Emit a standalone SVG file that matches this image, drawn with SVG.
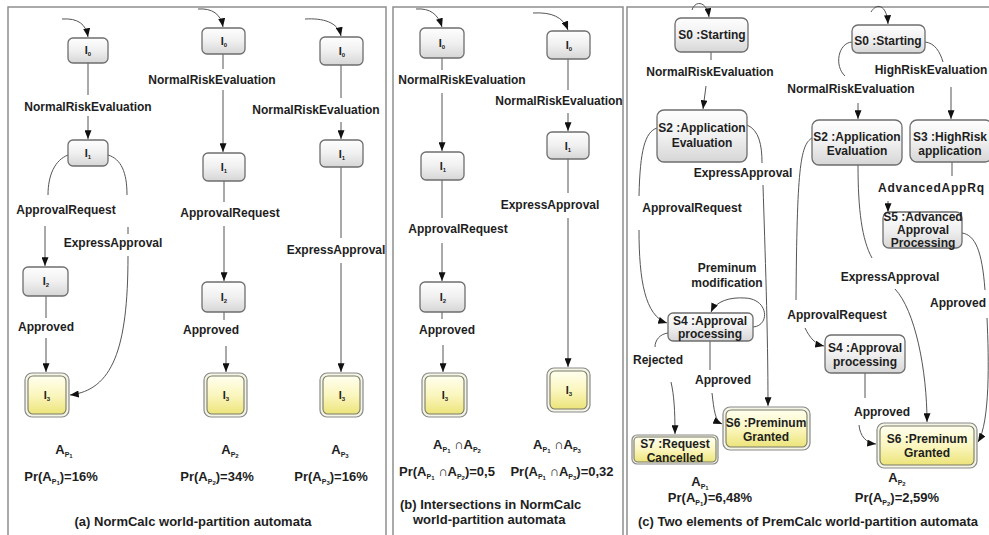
<svg xmlns="http://www.w3.org/2000/svg" width="989" height="535" viewBox="0 0 989 535">
  <defs>
    <linearGradient id="gNode" x1="0" y1="0" x2="0" y2="1">
      <stop offset="0" stop-color="#fefefe"/>
      <stop offset="0.5" stop-color="#f0f0f0"/>
      <stop offset="1" stop-color="#d6d6d6"/>
    </linearGradient>
    <linearGradient id="gFinal" x1="0" y1="0" x2="0" y2="1">
      <stop offset="0" stop-color="#ffffee"/>
      <stop offset="0.5" stop-color="#fbf6bf"/>
      <stop offset="1" stop-color="#ece47a"/>
    </linearGradient>
    <marker id="arr" viewBox="0 0 10 8" refX="10" refY="4" markerWidth="9" markerHeight="7" markerUnits="userSpaceOnUse" orient="auto">
      <path d="M0,0 L10,4 L0,8 z" fill="#111"/>
    </marker>
    <style>
      .frame { fill: none; stroke: #8e8e8e; stroke-width: 1.5; }
      .node rect { fill: url(#gNode); stroke: #6e6e6e; stroke-width: 1.3; }
      .final .fo { fill: #f5f5e6; stroke: #8a8a8a; stroke-width: 1.2; }
      .final .fi { fill: url(#gFinal); stroke: #7a7a6a; stroke-width: 1.1; }
      .t { font-family: "Liberation Sans", Arial, sans-serif; font-weight: bold; font-size: 12px; fill: #1e1e1e; }
      .big { font-size: 13px; }
      .m { text-anchor: middle; }
      .nl { font-family: "Liberation Sans", Arial, sans-serif; font-weight: bold; font-size: 11px; fill: #1e1e1e; text-anchor: middle; }
      .sb { font-size: 6px; }
      .sp { font-size: 7px; }
      .edge { fill: none; stroke: #555; stroke-width: 1; }
      .arw { marker-end: url(#arr); }
    </style>
  </defs>

  <rect width="989" height="535" fill="#ffffff"/>

  <!-- panel frames -->
  <g id="frames">
    <path class="frame" d="M8,540 V7 H386 V540"/>
    <path class="frame" d="M393,540 V7 H623 V540"/>
    <path class="frame" d="M627,540 V7 H992"/>
  </g>

  <!-- connectors -->
  <g id="connectors">
    <!-- (a) column 1 -->
    <path class="edge arw" d="M62,19 C78,18 86,24 88,37"/>
    <path class="edge" d="M88,63 V95"/>
    <path class="edge arw" d="M88,116 V139"/>
    <path class="edge" d="M68,155 C55,160 48,175 48,195"/>
    <path class="edge arw" d="M45,226 V266"/>
    <path class="edge" d="M108,155 C121,159 127,172 127,195"/>
    <path class="edge" d="M128,227 V234"/>
    <path class="edge arw" d="M128,256 C128,350 112,390 70,395"/>
    <path class="edge" d="M46,296 V318"/>
    <path class="edge arw" d="M46,338 V372"/>
    <!-- (a) column 2 -->
    <path class="edge arw" d="M198,9 C212,8 221,14 223,27"/>
    <path class="edge" d="M223,54 V69"/>
    <path class="edge arw" d="M223,90 V152"/>
    <path class="edge" d="M224,181 V202"/>
    <path class="edge arw" d="M224,226 V281"/>
    <path class="edge" d="M224,312 V320"/>
    <path class="edge arw" d="M226,346 V372"/>
    <!-- (a) column 3 -->
    <path class="edge arw" d="M305,19 C323,18 338,22 341,36"/>
    <path class="edge" d="M341,65 V98"/>
    <path class="edge arw" d="M341,122 V139"/>
    <path class="edge" d="M341,167 V238"/>
    <path class="edge arw" d="M341,263 V372"/>
    <!-- (b) column 1 -->
    <path class="edge arw" d="M416,9 C430,8 438,14 442,27"/>
    <path class="edge" d="M442,58 V70"/>
    <path class="edge arw" d="M442,93 V151"/>
    <path class="edge" d="M442,180 V218"/>
    <path class="edge arw" d="M442,243 V281"/>
    <path class="edge" d="M442,312 V319"/>
    <path class="edge arw" d="M443,345 V372"/>
    <!-- (b) column 2 -->
    <path class="edge arw" d="M533,13 C552,12 563,17 568,30"/>
    <path class="edge" d="M568,59 V90"/>
    <path class="edge arw" d="M568,113 V131"/>
    <path class="edge" d="M568,159 V193"/>
    <path class="edge arw" d="M568,218 V367"/>
    <!-- (c) left automaton -->
    <path class="edge arw" d="M692,10 C695,0 707,1 709,17"/>
    <path class="edge" d="M711,52 V60"/>
    <path class="edge arw" d="M706,86 L703,109"/>
    <path class="edge" d="M747,125 C759,130 762,145 762,163"/>
    <path class="edge arw" d="M763,185 C765,250 768,330 768,406"/>
    <path class="edge" d="M657,128 C645,132 640,150 639,196"/>
    <path class="edge arw" d="M639,230 C639,280 645,316 667,323"/>
    <path class="edge arw" d="M753,327 C770,326 769,299 745,298 C730,297 716,301 711,312"/>
    <path class="edge" d="M668,333 C660,334 655,340 655,347"/>
    <path class="edge arw" d="M671,382 C674,395 675,410 675,434"/>
    <path class="edge" d="M710,341 V370"/>
    <path class="edge arw" d="M712,393 C714,410 715,421 722,424"/>
    <!-- (c) right automaton -->
    <path class="edge arw" d="M871,12 C877,2 887,5 888,24"/>
    <path class="edge" d="M852,42 C838,43 834,66 845,76"/>
    <path class="edge arw" d="M858,103 V119"/>
    <path class="edge" d="M925,42 C935,43 940,52 943,62"/>
    <path class="edge arw" d="M951,87 V119"/>
    <path class="edge" d="M952,162 V176"/>
    <path class="edge arw" d="M888,201 V212"/>
    <path class="edge" d="M962,233 C975,235 982,250 985,290"/>
    <path class="edge arw" d="M987,318 C989,360 990,422 978,442"/>
    <path class="edge" d="M858,165 C858,210 862,240 872,258"/>
    <path class="edge arw" d="M895,289 C915,310 927,370 927,422"/>
    <path class="edge" d="M812,138 C800,145 797,170 796,300"/>
    <path class="edge arw" d="M805,328 C810,338 815,344 824,346"/>
    <path class="edge" d="M865,373 V398"/>
    <path class="edge arw" d="M859,425 C860,436 866,443 876,444"/>
  </g>

  <!-- connector labels -->
  <g id="edge-labels" class="t m">
    <text x="88" y="111">NormalRiskEvaluation</text>
    <text x="66" y="214">ApprovalRequest</text>
    <text x="113" y="247">ExpressApproval</text>
    <text x="46" y="331">Approved</text>
    <text x="212" y="84">NormalRiskEvaluation</text>
    <text x="230" y="217">ApprovalRequest</text>
    <text x="211" y="334">Approved</text>
    <text x="316" y="114">NormalRiskEvaluation</text>
    <text x="336" y="254">ExpressApproval</text>

    <text x="462" y="84">NormalRiskEvaluation</text>
    <text x="458" y="233">ApprovalRequest</text>
    <text x="447" y="334">Approved</text>
    <text x="559" y="105">NormalRiskEvaluation</text>
    <text x="550" y="209">ExpressApproval</text>

    <text x="710" y="76">NormalRiskEvaluation</text>
    <text x="743" y="177">ExpressApproval</text>
    <text x="692" y="212">ApprovalRequest</text>
    <text x="727" y="272">Preminum</text>
    <text x="727" y="287">modification</text>
    <text x="658" y="364">Rejected</text>
    <text x="723" y="384">Approved</text>

    <text x="851" y="93">NormalRiskEvaluation</text>
    <text x="931" y="74">HighRiskEvaluation</text>
    <text x="931" y="192" textLength="106">AdvancedAppRq</text>
    <text x="890" y="281">ExpressApproval</text>
    <text x="958" y="307">Approved</text>
    <text x="837" y="319">ApprovalRequest</text>
    <text x="882" y="416">Approved</text>
  </g>

  <!-- (a) nodes -->
  <g id="a1-I0" class="node"><rect x="68" y="38" width="40" height="25" rx="5"/><text class="nl" x="88" y="54">I<tspan class="sb" dy="2">0</tspan></text></g>
  <g id="a1-I1" class="node"><rect x="68" y="140" width="40" height="26" rx="5"/><text class="nl" x="88" y="157">I<tspan class="sb" dy="2">1</tspan></text></g>
  <g id="a1-I2" class="node"><rect x="23" y="267" width="45" height="29" rx="5"/><text class="nl" x="46" y="285">I<tspan class="sb" dy="2">2</tspan></text></g>
  <g id="a1-I3" class="final"><rect class="fo" x="25" y="373" width="44" height="44" rx="7"/><rect class="fi" x="28" y="376" width="38" height="38" rx="5"/><text class="nl" x="47" y="399">I<tspan class="sb" dy="2">3</tspan></text></g>

  <g id="a2-I0" class="node"><rect x="202" y="28" width="43" height="26" rx="5"/><text class="nl" x="224" y="45">I<tspan class="sb" dy="2">0</tspan></text></g>
  <g id="a2-I1" class="node"><rect x="203" y="153" width="42" height="28" rx="5"/><text class="nl" x="224" y="171">I<tspan class="sb" dy="2">1</tspan></text></g>
  <g id="a2-I2" class="node"><rect x="202" y="282" width="43" height="30" rx="5"/><text class="nl" x="224" y="301">I<tspan class="sb" dy="2">2</tspan></text></g>
  <g id="a2-I3" class="final"><rect class="fo" x="204" y="373" width="43" height="44" rx="7"/><rect class="fi" x="207" y="376" width="37" height="38" rx="5"/><text class="nl" x="226" y="399">I<tspan class="sb" dy="2">3</tspan></text></g>

  <g id="a3-I0" class="node"><rect x="320" y="37" width="43" height="28" rx="5"/><text class="nl" x="342" y="55">I<tspan class="sb" dy="2">0</tspan></text></g>
  <g id="a3-I1" class="node"><rect x="320" y="140" width="43" height="27" rx="5"/><text class="nl" x="342" y="158">I<tspan class="sb" dy="2">1</tspan></text></g>
  <g id="a3-I3" class="final"><rect class="fo" x="320" y="373" width="43" height="44" rx="7"/><rect class="fi" x="323" y="376" width="37" height="38" rx="5"/><text class="nl" x="342" y="399">I<tspan class="sb" dy="2">3</tspan></text></g>

  <!-- (b) nodes -->
  <g id="b1-I0" class="node"><rect x="420" y="28" width="44" height="30" rx="5"/><text class="nl" x="442" y="47">I<tspan class="sb" dy="2">0</tspan></text></g>
  <g id="b1-I1" class="node"><rect x="421" y="152" width="43" height="28" rx="5"/><text class="nl" x="443" y="170">I<tspan class="sb" dy="2">1</tspan></text></g>
  <g id="b1-I2" class="node"><rect x="420" y="282" width="45" height="30" rx="5"/><text class="nl" x="443" y="301">I<tspan class="sb" dy="2">2</tspan></text></g>
  <g id="b1-I3" class="final"><rect class="fo" x="422" y="373" width="45" height="44" rx="7"/><rect class="fi" x="425" y="376" width="39" height="38" rx="5"/><text class="nl" x="445" y="399">I<tspan class="sb" dy="2">3</tspan></text></g>

  <g id="b2-I0" class="node"><rect x="547" y="31" width="43" height="28" rx="5"/><text class="nl" x="569" y="49">I<tspan class="sb" dy="2">0</tspan></text></g>
  <g id="b2-I1" class="node"><rect x="547" y="132" width="42" height="27" rx="5"/><text class="nl" x="568" y="150">I<tspan class="sb" dy="2">1</tspan></text></g>
  <g id="b2-I3" class="final"><rect class="fo" x="547" y="368" width="43" height="44" rx="7"/><rect class="fi" x="550" y="371" width="37" height="38" rx="5"/><text class="nl" x="569" y="394">I<tspan class="sb" dy="2">3</tspan></text></g>

  <!-- (c) left automaton nodes -->
  <g id="c1-S0" class="node"><rect x="675" y="18" width="73" height="34" rx="6"/><text class="t m" x="712" y="39">S0 :Starting</text></g>
  <g id="c1-S2" class="node"><rect x="657" y="110" width="90" height="52" rx="7"/><text class="t m" x="702" y="132">S2 :Application<tspan x="702" dy="15">Evaluation</tspan></text></g>
  <g id="c1-S4" class="node"><rect x="668" y="313" width="85" height="28" rx="5"/><text class="t m" x="710" y="325">S4 :Approval<tspan x="710" dy="13">processing</tspan></text></g>
  <g id="c1-S7" class="final"><rect class="fo" x="632" y="435" width="86" height="29" rx="5"/><rect class="fi" x="634" y="437" width="82" height="25" rx="4"/><text class="t m" x="675" y="448">S7 :Request<tspan x="675" dy="14">Cancelled</tspan></text></g>
  <g id="c1-S6" class="final"><rect class="fo" x="723" y="407" width="87" height="43" rx="7"/><rect class="fi" x="726" y="410" width="81" height="37" rx="5"/><text class="t m" x="766" y="427">S6 :Preminum<tspan x="766" dy="14">Granted</tspan></text></g>

  <!-- (c) right automaton nodes -->
  <g id="c2-S0" class="node"><rect x="852" y="25" width="73" height="28" rx="6"/><text class="t m" x="888" y="45">S0 :Starting</text></g>
  <g id="c2-S2" class="node"><rect x="812" y="120" width="90" height="45" rx="7"/><text class="t m" x="857" y="141">S2 :Application<tspan x="857" dy="14">Evaluation</tspan></text></g>
  <g id="c2-S3" class="node"><rect x="910" y="120" width="82" height="42" rx="7"/><text class="t m" x="950" y="141">S3 :HighRisk<tspan x="950" dy="14">application</tspan></text></g>
  <g id="c2-S5" class="node"><rect x="883" y="212" width="79" height="36" rx="6"/><text class="t m" x="923" y="221">S5 :Advanced<tspan x="923" dy="13">Approval</tspan><tspan x="923" dy="13">Processing</tspan></text></g>
  <g id="c2-S4" class="node"><rect x="825" y="335" width="80" height="38" rx="6"/><text class="t m" x="865" y="352">S4 :Approval<tspan x="865" dy="14">processing</tspan></text></g>
  <g id="c2-S6" class="final"><rect class="fo" x="877" y="423" width="100" height="45" rx="7"/><rect class="fi" x="880" y="426" width="94" height="39" rx="5"/><text class="t m" x="927" y="443">S6 :Preminum<tspan x="927" dy="14">Granted</tspan></text></g>

  <!-- partition names and probabilities -->
  <g id="probabilities" class="t big m">
    <text x="64" y="454">A<tspan class="sp" dy="3">P</tspan><tspan class="sb" dy="1">1</tspan></text>
    <text x="61" y="481">Pr(A<tspan class="sp" dy="3">P</tspan><tspan class="sb" dy="1">1</tspan><tspan dy="-4">)=16%</tspan></text>
    <text x="230" y="454">A<tspan class="sp" dy="3">P</tspan><tspan class="sb" dy="1">2</tspan></text>
    <text x="217" y="481">Pr(A<tspan class="sp" dy="3">P</tspan><tspan class="sb" dy="1">2</tspan><tspan dy="-4">)=34%</tspan></text>
    <text x="340" y="454">A<tspan class="sp" dy="3">P</tspan><tspan class="sb" dy="1">3</tspan></text>
    <text x="331" y="481">Pr(A<tspan class="sp" dy="3">P</tspan><tspan class="sb" dy="1">3</tspan><tspan dy="-4">)=16%</tspan></text>

    <text x="457" y="449">A<tspan class="sp" dy="3">P</tspan><tspan class="sb" dy="1">1</tspan><tspan dy="-4"> ∩A</tspan><tspan class="sp" dy="3">P</tspan><tspan class="sb" dy="1">2</tspan></text>
    <text x="447" y="476">Pr(A<tspan class="sp" dy="3">P</tspan><tspan class="sb" dy="1">1</tspan><tspan dy="-4"> ∩A</tspan><tspan class="sp" dy="3">P</tspan><tspan class="sb" dy="1">2</tspan><tspan dy="-4">)=0,5</tspan></text>
    <text x="557" y="449">A<tspan class="sp" dy="3">P</tspan><tspan class="sb" dy="1">1</tspan><tspan dy="-4"> ∩A</tspan><tspan class="sp" dy="3">P</tspan><tspan class="sb" dy="1">3</tspan></text>
    <text x="562" y="476">Pr(A<tspan class="sp" dy="3">P</tspan><tspan class="sb" dy="1">1</tspan><tspan dy="-4"> ∩A</tspan><tspan class="sp" dy="3">P</tspan><tspan class="sb" dy="1">3</tspan><tspan dy="-4">)=0,32</tspan></text>

    <text x="700" y="486">A<tspan class="sp" dy="3">P</tspan><tspan class="sb" dy="1">1</tspan></text>
    <text x="710" y="502">Pr(A<tspan class="sp" dy="3">P</tspan><tspan class="sb" dy="1">1</tspan><tspan dy="-4">)=6,48%</tspan></text>
    <text x="897" y="482">A<tspan class="sp" dy="3">P</tspan><tspan class="sb" dy="1">2</tspan></text>
    <text x="897" y="502">Pr(A<tspan class="sp" dy="3">P</tspan><tspan class="sb" dy="1">2</tspan><tspan dy="-4">)=2,59%</tspan></text>
  </g>

  <!-- panel captions -->
  <g id="captions" class="t big">
    <text class="m" x="193" y="526">(a) NormCalc world-partition automata</text>
    <text x="400" y="509">(b) Intersections in NormCalc</text>
    <text x="413" y="524">world-partition automata</text>
    <text x="638" y="526">(c) Two elements of PremCalc world-partition automata</text>
  </g>
</svg>
